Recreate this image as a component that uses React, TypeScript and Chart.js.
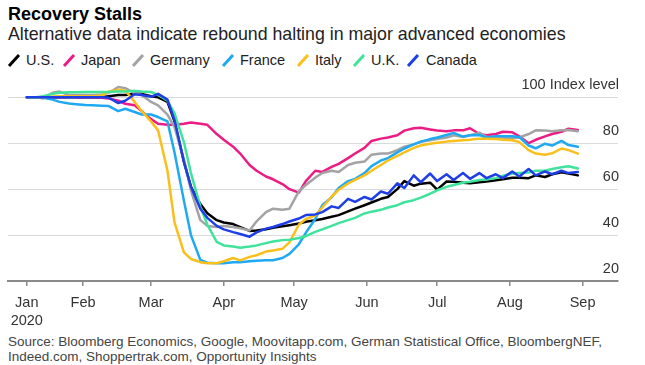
import React, { useEffect, useRef } from "react";
import { Chart, registerables } from "chart.js";

Chart.register(...registerables);

// Day of year 2020 (0 = Jan 1)
const days = [7, 11, 14, 18, 21, 25, 28, 32, 35, 39, 42, 46, 49, 53, 56, 60, 63, 67, 70, 74, 77, 81, 84, 88, 91, 95, 98, 102, 105, 109, 112, 116, 119, 123, 126, 130, 133, 137, 140, 144, 147, 151, 154, 158, 161, 165, 168, 172, 175, 179, 182, 186, 189, 193, 196, 200, 203, 207, 210, 214, 217, 221, 224, 228, 231, 235, 238, 242];

const usValues = [100, 100, 100, 100, 100, 100, 100, 100, 100, 100, 100.5, 101, 101, 101.5, 101.5, 100.5, 100, 98, 89.5, 72, 61, 53.5, 49.5, 46.5, 45.5, 44.8, 43.5, 41.8, 42, 42.5, 43.2, 43.8, 44.3, 45, 45.8, 46.5, 47, 48, 48.7, 50.3, 51.5, 53, 54.2, 55.8, 56.6, 60, 63.5, 61.5, 62.4, 62.8, 59.8, 63.3, 63.2, 62.8, 62.6, 63, 63.3, 63.9, 64.3, 65, 65, 64.8, 66, 65.3, 66.5, 67.3, 66.8, 66];
const japanValues = [100, 100, 100, 100, 100, 100.3, 100, 100, 100, 99.8, 99.5, 98.5, 97.2, 96.5, 94, 90.5, 88.5, 88, 88, 88.5, 89, 88.5, 88, 84, 81.5, 78.5, 75.5, 70.5, 68, 65.5, 64.3, 62.2, 60, 58.5, 63.5, 68, 67.5, 69.7, 71, 73.5, 75.5, 78, 81, 82, 82.5, 83.5, 85.5, 86.5, 86.7, 86, 85.5, 85.2, 85.6, 85.6, 86.5, 84, 83.5, 84, 85, 84.8, 83, 80, 81.5, 83, 84, 85, 86.3, 85.8];
const germanyValues = [100, 100, 99.5, 102, 102.5, 101, 101, 101, 101, 101.2, 102, 104.5, 104, 101.8, 101, 98, 96.5, 92.5, 87, 73, 59.5, 46.5, 44, 43.5, 44, 43.5, 43, 42, 46, 50, 51.5, 51, 51.5, 59, 61.8, 65, 67, 68, 67.5, 70.5, 71.5, 72, 75, 75.5, 75.5, 77, 78.5, 79.5, 80.6, 81.3, 81.8, 82.5, 83.5, 82.7, 83.5, 84.6, 82.8, 82.7, 82.5, 82.2, 82.5, 84, 85.6, 85.5, 85.2, 85.6, 85.8, 85.2];
const franceValues = [100, 100, 99.8, 99, 98, 97.3, 97, 96.6, 96.5, 96.3, 96.2, 94, 95, 93.6, 92.5, 92.5, 91.4, 89.5, 76, 55, 40, 29.2, 28, 27.7, 27.7, 28.2, 28.2, 28.6, 28.8, 29, 29, 30, 31.8, 36, 41, 47, 53, 56.5, 60.5, 63.5, 64.5, 67, 70, 72.5, 73.5, 76, 77.7, 79.5, 80.7, 81.8, 82.5, 83.6, 84.5, 82.9, 83.5, 83.6, 82.5, 83, 83, 83, 82.7, 79, 77.8, 79.8, 79, 81, 79.2, 78.5];
const italyValues = [100, 100, 100, 100.3, 100.5, 100.5, 100.5, 100.5, 100.5, 100.8, 102.5, 103.2, 103, 98, 94, 89.5, 85.6, 68, 45.5, 32.5, 29.6, 28.2, 27.7, 27.7, 28.6, 30, 29, 30.5, 31.2, 32.8, 33.3, 34, 36.8, 44.5, 47, 48.5, 52, 56.8, 59.7, 62.5, 64, 66, 68, 70.5, 72.5, 74.5, 76, 78, 79, 79.8, 80.2, 80.7, 81, 81.3, 81.5, 82, 82, 81.8, 81.5, 81.3, 80.5, 77, 75.5, 75, 75.6, 77.7, 77, 75.5];
const ukValues = [100, 100, 100.5, 101.5, 102, 102.2, 102.2, 102.3, 102.3, 102.3, 102.3, 102.5, 102.5, 102.8, 102.5, 102.3, 101, 98.5, 93, 80.5, 67, 52.5, 44.5, 37, 35.5, 35, 34.5, 35, 35.5, 36.5, 37.2, 37.8, 38, 38.7, 39.5, 41.4, 42.5, 44, 45.2, 46.5, 47.5, 49.4, 50.2, 51, 52, 53, 54.3, 55.2, 56.3, 58, 59.5, 61, 61.8, 62.8, 63.2, 64, 64.2, 64.8, 65.8, 66.8, 67, 67.2, 68, 68, 68.8, 69.5, 70, 69];
const canadaValues = [100, 100, 100, 100, 100, 100, 100, 100, 100, 100, 99.8, 97.5, 98.5, 101.3, 101, 100.2, 101.5, 99, 90, 72, 61, 51.5, 47.5, 44, 42.5, 41.3, 40.5, 39.3, 41.2, 42.8, 43.5, 44.8, 45.9, 47.2, 48.7, 49, 50, 52.5, 51.8, 55.8, 54.5, 56.6, 55.5, 59, 58, 62.5, 60.5, 66, 63, 66.8, 63.5, 66.5, 64, 67, 64.5, 67, 64.8, 66.5, 64.8, 67.7, 65.5, 68.8, 66, 67.7, 66.5, 68, 67, 67.5];

const seriesNames = ["U.S.", "Japan", "Germany", "France", "Italy", "U.K.", "Canada"];
const seriesColors = ["#000000", "#ec1c85", "#a3a3a3", "#1fa9f3", "#f9c01c", "#40e39c", "#1f3fe6"];

const tickDays = [7, 31, 60, 91, 121, 152, 182, 213, 244];
const tickLabels = ["Jan", "Feb", "Mar", "Apr", "May", "Jun", "Jul", "Aug", "Sep"];
const yearLabel = "2020";
const yTicks = [20, 40, 60, 80, 100];
const yTickLabels = ["20", "40", "60", "80", "100 Index level"];

const FONT = '"Liberation Sans", Arial, Helvetica, sans-serif';

// legend layout (page px)
const legendIconX = [7, 62, 131, 221, 296, 352, 406];
const legendTextX = [26, 81, 150, 240, 315, 371, 426];

export default function App() {
  const ref = useRef<HTMLCanvasElement>(null);

  useEffect(() => {
    const seriesValues = [usValues, japanValues, germanyValues, franceValues, italyValues, ukValues, canadaValues];
    const labelPlugin = {
      id: "axisLabels",
      afterDraw(chart: any) {
        const ctx = chart.ctx;
        const xs = chart.scales.x;
        const ys = chart.scales.y;
        const area = chart.chartArea;
        ctx.save();
        ctx.fillStyle = "#333333";
        ctx.font = `14.5px ${FONT}`;
        ctx.textAlign = "right";
        ctx.textBaseline = "alphabetic";
        yTicks.forEach((v, i) => {
          ctx.fillText(yTickLabels[i], area.right + 1, ys.getPixelForValue(v) - 8.5);
        });
        ctx.textAlign = "center";
        tickDays.forEach((d, i) => {
          ctx.fillText(tickLabels[i], xs.getPixelForValue(d), area.bottom + 25.5);
        });
        ctx.fillText(yearLabel, xs.getPixelForValue(tickDays[0]), area.bottom + 44);
        ctx.restore();
      },
    };

    const chart = new Chart(ref.current as HTMLCanvasElement, {
      type: "line",
      data: {
        datasets: seriesNames.map((name, i) => ({
          label: name,
          data: days.map((d, j) => ({ x: d, y: seriesValues[i][j] })),
          borderColor: seriesColors[i],
          backgroundColor: seriesColors[i],
          borderWidth: 2.5,
          pointRadius: 0,
          tension: 0,
          fill: false,
          order: seriesNames.length - i,
          borderJoinStyle: "round" as const,
          borderCapStyle: "round" as const,
        })),
      },
      options: {
        animation: false,
        responsive: false,
        maintainAspectRatio: false,
        layout: { padding: { left: 8, right: 27, top: 8.93, bottom: 0 } },
        plugins: { legend: { display: false }, tooltip: { enabled: false }, title: { display: false } },
        scales: {
          x: {
            type: "linear",
            min: -1,
            max: 259.1,
            afterBuildTicks: (s: any) => {
              s.ticks = tickDays.map((v) => ({ value: v }));
            },
            afterFit: (s: any) => {
              s.height = 49;
            },
            ticks: { display: false },
            grid: { drawOnChartArea: false, drawTicks: true, tickLength: 5, color: "#8a8a8a", lineWidth: 1.5 },
            border: { display: true, color: "#8a8a8a", width: 2 },
          },
          y: {
            type: "linear",
            min: 20,
            max: 108,
            afterBuildTicks: (s: any) => {
              s.ticks = yTicks.map((v) => ({ value: v }));
            },
            afterFit: (s: any) => {
              s.width = 0;
            },
            ticks: { display: false },
            grid: { color: "#dadada", lineWidth: 1, drawTicks: false },
            border: { display: false },
          },
        },
      },
      plugins: [labelPlugin],
    } as any);
    return () => chart.destroy();
  }, []);

  return (
    <div
      style={{
        position: "fixed",
        left: 0,
        top: 0,
        width: 645,
        height: 365,
        background: "#ffffff",
        fontFamily: FONT,
        overflow: "hidden",
      }}
    >
      <div style={{ position: "absolute", left: 8, top: 4.8, fontSize: 18, lineHeight: "18px", fontWeight: 700, color: "#000", whiteSpace: "nowrap" }}>
        Recovery Stalls
      </div>
      <div style={{ position: "absolute", left: 8, top: 25.5, fontSize: 17.75, lineHeight: "17.75px", color: "#222", whiteSpace: "nowrap" }}>
        Alternative data indicate rebound halting in major advanced economies
      </div>
      {seriesNames.map((name, i) => (
        <React.Fragment key={name}>
          <svg
            width={14}
            height={13}
            style={{ position: "absolute", left: legendIconX[i], top: 54 }}
          >
            <line x1={2} y1={12} x2={12} y2={1} stroke={seriesColors[i]} strokeWidth={3} />
          </svg>
          <div style={{ position: "absolute", left: legendTextX[i], top: 53.2, fontSize: 14.5, lineHeight: "14.5px", color: "#222", whiteSpace: "nowrap" }}>
            {name}
          </div>
        </React.Fragment>
      ))}
      <canvas ref={ref} width={645} height={260} style={{ position: "absolute", left: 0, top: 70, width: 645, height: 260, display: "block" }} />
      <div style={{ position: "absolute", left: 8, top: 333.8, fontSize: 13.5, lineHeight: "15px", color: "#444", whiteSpace: "nowrap" }}>
        Source: Bloomberg Economics, Google, Moovitapp.com, German Statistical Office, BloombergNEF,
        <br />
        Indeed.com, Shoppertrak.com, Opportunity Insights
      </div>
    </div>
  );
}
